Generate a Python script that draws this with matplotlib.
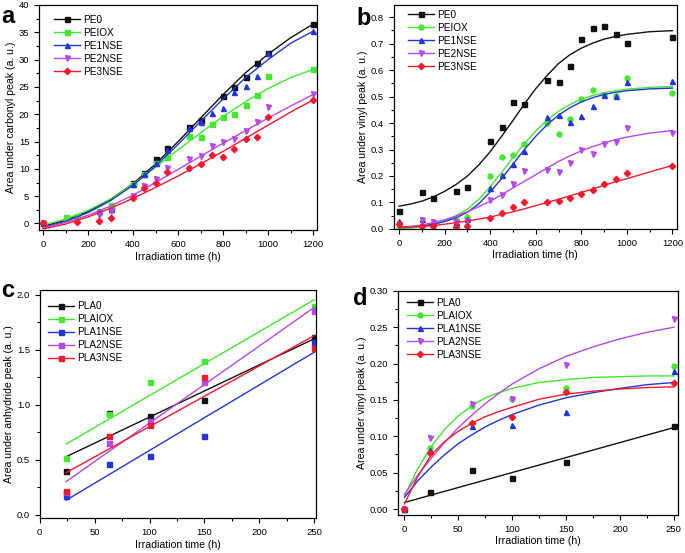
import matplotlib
matplotlib.use("Agg")
import matplotlib.pyplot as plt
from matplotlib.ticker import MultipleLocator, FormatStrFormatter

plt.rcParams["font.family"] = ["Liberation Sans", "DejaVu Sans"]

# ---------------- panel a: carbonyl peak (PE) ----------------
pe_names = ["PE0", "PEIOX", "PE1NSE", "PE2NSE", "PE3NSE"]

a_x = {
    "PE0": [0, 300, 400, 450, 500, 550, 650, 700, 800, 850, 900, 950, 1000, 1200],
    "PEIOX": [0, 100, 150, 250, 300, 400, 450, 500, 550, 650, 700, 750, 800, 850, 900, 950, 1000, 1200],
    "PE1NSE": [0, 250, 300, 400, 450, 500, 550, 650, 700, 750, 800, 850, 900, 950, 1000, 1200],
    "PE2NSE": [0, 250, 300, 400, 450, 500, 550, 650, 700, 750, 800, 850, 900, 950, 1000, 1200],
    "PE3NSE": [0, 150, 250, 300, 400, 450, 500, 550, 650, 700, 750, 800, 850, 900, 950, 1000, 1200],
}
a_y = {
    "PE0": [0.0, 3.0, 7.5, 9.2, 11.8, 13.9, 17.7, 18.9, 23.3, 25.0, 26.9, 29.4, 31.2, 36.5],
    "PEIOX": [0.0, 1.2, 1.3, 2.3, 3.4, 7.3, 9.0, 11.0, 12.2, 16.0, 15.8, 18.3, 19.5, 20.1, 21.6, 23.6, 27.0, 28.2],
    "PE1NSE": [0.0, 2.2, 2.6, 7.2, 9.0, 11.0, 13.5, 17.5, 18.5, 20.3, 21.2, 24.0, 25.1, 27.0, 31.2, 35.3],
    "PE2NSE": [0.0, 1.6, 2.3, 5.0, 6.8, 8.2, 10.2, 11.8, 12.4, 14.1, 15.0, 15.5, 16.9, 18.6, 21.3, 23.7],
    "PE3NSE": [0.0, 0.3, 0.4, 1.0, 4.7, 6.5, 7.4, 9.4, 10.2, 10.9, 12.6, 12.2, 13.7, 15.5, 15.8, 19.5, 22.6],
}
a_fit_x = [0, 100, 200, 300, 400, 500, 600, 700, 800, 900, 1000, 1100, 1200]
a_fit_y = {
    "PE0": [-0.5, 0.6, 2.2, 4.4, 7.3, 10.9, 15.0, 19.3, 23.6, 27.6, 31.0, 34.0, 36.5],
    "PEIOX": [-0.3, 0.8, 2.4, 4.5, 7.2, 10.3, 13.5, 16.6, 19.6, 22.3, 24.7, 26.7, 28.2],
    "PE1NSE": [-0.7, 0.4, 2.0, 4.2, 7.0, 10.5, 14.5, 18.7, 22.8, 26.7, 30.0, 33.0, 35.2],
    "PE2NSE": [-0.8, 0.2, 1.5, 3.2, 5.2, 7.5, 9.9, 12.3, 14.7, 17.0, 19.3, 21.5, 23.6],
    "PE3NSE": [-1.0, -0.1, 1.2, 2.8, 4.6, 6.6, 8.7, 10.9, 13.2, 15.6, 18.0, 20.4, 22.6],
}

# ---------------- panel b: vinyl peak (PE) ----------------
b_x = [0, 100, 150, 250, 300, 400, 450, 500, 550, 650, 700, 750, 800, 850, 900, 950, 1000, 1200]
b_y = {
    "PE0": [0.069, 0.138, 0.117, 0.144, 0.159, 0.331, 0.386, 0.481, 0.472, 0.563, 0.556, 0.616, 0.717, 0.760, 0.766, 0.738, 0.702, 0.726],
    "PEIOX": [0.005, 0.002, 0.010, 0.033, 0.045, 0.199, 0.271, 0.278, 0.319, 0.399, 0.358, 0.414, 0.491, 0.525, 0.505, 0.502, 0.569, 0.512],
    "PE1NSE": [0.030, 0.039, 0.030, 0.027, 0.039, 0.153, 0.203, 0.245, 0.293, 0.421, 0.430, 0.405, 0.428, 0.464, 0.506, 0.502, 0.554, 0.560],
    "PE2NSE": [0.020, 0.033, 0.025, 0.027, 0.030, 0.108, 0.127, 0.168, 0.217, 0.222, 0.215, 0.250, 0.298, 0.284, 0.320, 0.329, 0.381, 0.363],
    "PE3NSE": [0.019, 0.012, 0.010, 0.009, 0.013, 0.042, 0.061, 0.083, 0.103, 0.103, 0.106, 0.116, 0.132, 0.146, 0.170, 0.187, 0.212, 0.237],
}
b_fit_x = [0, 50, 100, 150, 200, 250, 300, 350, 400, 450, 500, 550, 600,
           650, 700, 750, 800, 850, 900, 950, 1000, 1100, 1200]
b_fit_y = {
    "PE0": [0.086, 0.094, 0.105, 0.121, 0.142, 0.168, 0.200, 0.242, 0.292, 0.350, 0.410, 0.472,
            0.530, 0.580, 0.625, 0.658, 0.683, 0.702, 0.717, 0.727, 0.735, 0.745, 0.749],
    "PEIOX": [0.000, 0.003, 0.008, 0.016, 0.030, 0.049, 0.075, 0.112, 0.160, 0.213, 0.270, 0.322,
              0.370, 0.411, 0.445, 0.470, 0.490, 0.504, 0.515, 0.522, 0.528, 0.535, 0.538],
    "PE1NSE": [0.007, 0.009, 0.012, 0.018, 0.028, 0.042, 0.063, 0.095, 0.140, 0.190, 0.245, 0.300,
               0.350, 0.394, 0.430, 0.458, 0.480, 0.496, 0.508, 0.516, 0.522, 0.529, 0.532],
    "PE2NSE": [0.005, 0.009, 0.015, 0.024, 0.035, 0.049, 0.065, 0.084, 0.105, 0.129, 0.155, 0.180,
               0.205, 0.230, 0.255, 0.276, 0.295, 0.311, 0.325, 0.337, 0.347, 0.362, 0.372],
    "PE3NSE": [0.005, 0.007, 0.010, 0.013, 0.018, 0.024, 0.030, 0.037, 0.045, 0.055, 0.065, 0.076,
               0.088, 0.100, 0.112, 0.125, 0.138, 0.151, 0.165, 0.178, 0.190, 0.215, 0.240],
}

# ---------------- panel c: anhydride peak (PLA) ----------------
pla_names = ["PLA0", "PLAIOX", "PLA1NSE", "PLA2NSE", "PLA3NSE"]
c_x = [24, 63, 100, 150, 250]
c_y = {
    "PLA0": [0.398, 0.929, 0.896, 1.044, 1.614],
    "PLAIOX": [0.519, 0.917, 1.207, 1.394, 1.900],
    "PLA1NSE": [0.175, 0.459, 0.537, 0.715, 1.575],
    "PLA2NSE": [0.210, 0.649, 0.857, 1.204, 1.852],
    "PLA3NSE": [0.217, 0.712, 0.815, 1.249, 1.520],
}
c_fit_x = [24, 250]
c_fit_y = {
    "PLA0": [0.528, 1.600],
    "PLAIOX": [0.643, 1.955],
    "PLA1NSE": [0.133, 1.478],
    "PLA2NSE": [0.302, 1.885],
    "PLA3NSE": [0.383, 1.629],
}

# ---------------- panel d: vinyl peak (PLA) ----------------
d_x = [0, 24, 63, 100, 150, 250]
d_y = {
    "PLA0": [0.0, 0.0229, 0.053, 0.043, 0.065, 0.1145],
    "PLAIOX": [0.0, 0.0838, 0.141, 0.151, 0.167, 0.197],
    "PLA1NSE": [0.0, 0.0806, 0.1136, 0.1159, 0.133, 0.190],
    "PLA2NSE": [0.0, 0.0976, 0.1448, 0.151, 0.198, 0.261],
    "PLA3NSE": [0.0, 0.077, 0.1177, 0.127, 0.161, 0.173],
}
d_fit_x = [0, 12.5, 25, 37.5, 50, 62.5, 75, 87.5, 100, 125, 150, 175, 200, 225, 250]
d_fit_y = {
    "PLAIOX": [0.018, 0.056, 0.086, 0.110, 0.128, 0.142, 0.153, 0.160, 0.166, 0.174, 0.178, 0.181, 0.182, 0.183, 0.183],
    "PLA1NSE": [0.016, 0.039, 0.058, 0.075, 0.090, 0.102, 0.113, 0.122, 0.130, 0.143, 0.153, 0.160, 0.166, 0.171, 0.174],
    "PLA2NSE": [0.020, 0.047, 0.070, 0.092, 0.112, 0.129, 0.145, 0.159, 0.172, 0.193, 0.210, 0.223, 0.234, 0.243, 0.250],
    "PLA3NSE": [0.007, 0.045, 0.075, 0.093, 0.107, 0.118, 0.127, 0.134, 0.140, 0.151, 0.158, 0.162, 0.165, 0.167, 0.168],
}
d_line_x = [0, 250]
d_line_y = [0.009, 0.112]

COLORS = ["#111111", "#44e830", "#2236d8", "#b848ec", "#f41830"]
MARK_AB = ["s", "s", "^", "v", "D"]
MARK_B = ["s", "o", "^", "v", "D"]
MARK_C = ["s", "s", "s", "s", "s"]
MARK_D = ["s", "o", "^", "v", "D"]

FS_TICK = 6.8
FS_LAB = 7.6
FS_LEG = 7.2


def msize(m):
    return 3.2 if m == "D" else 3.6


def style_axis(ax, xmaj, ymaj, xlabel, ylabel):
    ax.xaxis.set_major_locator(MultipleLocator(xmaj))
    ax.xaxis.set_minor_locator(MultipleLocator(xmaj / 2))
    ax.yaxis.set_major_locator(MultipleLocator(ymaj))
    ax.yaxis.set_minor_locator(MultipleLocator(ymaj / 2))
    ax.tick_params(which="both", direction="out", labelsize=FS_TICK, width=0.8)
    ax.tick_params(which="major", length=3.5)
    ax.tick_params(which="minor", length=2)
    for s in ax.spines.values():
        s.set_linewidth(0.9)
    ax.set_xlabel(xlabel, fontsize=FS_LAB, labelpad=2)
    ax.set_ylabel(ylabel, fontsize=FS_LAB, labelpad=2)


def add_legend(ax, names, markers, anchor):
    handles = []
    for name, c, m in zip(names, COLORS, markers):
        (h,) = ax.plot([], [], color=c, marker=m, ms=msize(m), lw=1.0, label=name)
        handles.append(h)
    ax.legend(handles=handles, loc="upper left", fontsize=FS_LEG, frameon=False,
              handlelength=2.6, handletextpad=0.3, labelspacing=0.3,
              borderpad=0, borderaxespad=0, bbox_to_anchor=anchor)


fig = plt.figure(figsize=(6.85, 5.53), dpi=100)
ax_a = fig.add_axes([0.057, 0.584, 0.406, 0.407])
ax_b = fig.add_axes([0.575, 0.586, 0.413, 0.405])
ax_c = fig.add_axes([0.058, 0.063, 0.404, 0.412])
ax_d = fig.add_axes([0.581, 0.069, 0.409, 0.405])

# panel a
for name, c, m in zip(pe_names, COLORS, MARK_AB):
    ax_a.plot(a_fit_x, a_fit_y[name], color=c, lw=1.0)
    ax_a.plot(a_x[name], a_y[name], ls="none", marker=m, color=c, ms=msize(m))
ax_a.set_xlim(-18, 1218)
ax_a.set_ylim(-1.2, 40)
style_axis(ax_a, 200, 5, "Irradiation time (h)", "Area under carbonyl peak (a. u.)")
add_legend(ax_a, pe_names, MARK_AB, (0.054, 0.956))

# panel b
for name, c, m in zip(pe_names, COLORS, MARK_B):
    ax_b.plot(b_fit_x, b_fit_y[name], color=c, lw=1.0)
    ax_b.plot(b_x, b_y[name], ls="none", marker=m, color=c, ms=msize(m))
ax_b.set_xlim(-23, 1219)
ax_b.set_ylim(0, 0.846)
style_axis(ax_b, 200, 0.1, "Irradiation time (h)", "Area under vinyl peak (a. u.)")
ax_b.yaxis.set_major_formatter(FormatStrFormatter("%.1f"))
add_legend(ax_b, pe_names, MARK_B, (0.049, 0.978))

# panel c
for name, c in zip(pla_names, COLORS):
    ax_c.plot(c_fit_x, c_fit_y[name], color=c, lw=1.0)
    ax_c.plot(c_x, c_y[name], ls="none", marker="s", color=c, ms=3.6)
ax_c.set_xlim(0, 252)
ax_c.set_ylim(-0.03, 2.04)
style_axis(ax_c, 50, 0.5, "Irradiation time (h)", "Area under anhydride peak (a. u.)")
ax_c.yaxis.set_major_formatter(FormatStrFormatter("%.1f"))
add_legend(ax_c, pla_names, MARK_C, (0.029, 0.952))

# panel d
ax_d.plot(d_line_x, d_line_y, color=COLORS[0], lw=1.0)
for name, c in zip(pla_names[1:], COLORS[1:]):
    ax_d.plot(d_fit_x, d_fit_y[name], color=c, lw=1.0)
for name, c, m in zip(pla_names, COLORS, MARK_D):
    ax_d.plot(d_x, d_y[name], ls="none", marker=m, color=c, ms=msize(m))
ax_d.set_xlim(-6, 254)
ax_d.set_ylim(-0.008, 0.30)
style_axis(ax_d, 50, 0.05, "Irradiation time (h)", "Area under vinyl peak (a. u.)")
ax_d.yaxis.set_major_formatter(FormatStrFormatter("%.2f"))
add_legend(ax_d, pla_names, MARK_D, (0.032, 0.969))

# panel letters
for lab, (x, y) in zip("abcd", [(0.002, 0.958), (0.521, 0.955), (0.002, 0.463), (0.515, 0.448)]):
    fig.text(x, y, lab, fontsize=17, fontweight="bold", ha="left", va="baseline")

fig.savefig("out.png", dpi=100)
